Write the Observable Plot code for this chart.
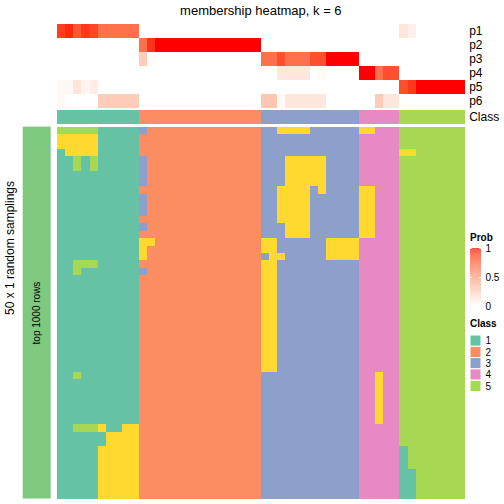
<!DOCTYPE html>
<html><head><meta charset="utf-8">
<script src="https://cdn.jsdelivr.net/npm/d3@7"></script>
<script src="https://cdn.jsdelivr.net/npm/@observablehq/plot@0.6"></script>
<style>
html,body{margin:0;padding:0;background:#fff;}
#chart{position:relative;width:504px;height:504px;overflow:hidden;background:#fff;font-family:"Liberation Sans",Arial,Helvetica,sans-serif;color:#000;}
#chart svg{position:absolute;left:0;top:0;}
.lbl{position:absolute;white-space:nowrap;color:#000;}
</style></head><body><div id="chart"></div>
<script>
// ---------- data ----------
const title = "membership heatmap, k = 6";
const rowTitle = "50 x 1 random samplings";
const rowGroup = "top 1000 rows";
const pRows = ["p1","p2","p3","p4","p5","p6"];
const classRow = "Class";
const classLabels = ["1","2","3","4","5","6"];
const classColors = ["#66C2A5","#FC8D62","#8DA0CB","#E78AC3","#A6D854","#FFD92F"];
const legendClasses = ["1","2","3","4","5"];
const probTicks = [0, 0.5, 1];
const groupColor = "#7FC97F";

const columnClass = "1111111111 222222222222222 333333333333 44444 55555555";

const p1 = [0.90,0.95,0.82,0.92,0.88,0.72,0.72,0.72,0.72,0.72,
  0,0,0,0,0,0,0,0,0,0,0,0,0,0,0,
  0,0,0,0,0,0,0,0,0,0,0,0,
  0,0,0,0,0,
  0.14,0.08,0,0,0,0,0,0];
const p2 = [0,0,0,0,0,0,0,0,0,0,
  0.72,0.93,1,1,1,1,1,1,1,1,1,1,1,1,1,
  0,0,0,0,0,0,0,0,0,0,0,0,
  0,0,0,0,0,
  0,0,0,0,0,0,0,0];
const p3 = [0,0,0,0,0,0,0,0,0,0,
  0.27,0.03,0,0,0,0,0,0,0,0,0,0,0,0,0,
  0.72,0.72,0.85,0.72,0.72,0.72,0.85,0.85,1,1,1,1,
  0,0,0,0,0,
  0,0,0,0,0,0,0,0];
const p4 = [0,0,0,0,0,0,0,0,0,0,
  0,0,0,0,0,0,0,0,0,0,0,0,0,0,0,
  0,0,0.13,0.13,0.13,0.13,0,0.03,0,0,0,0,
  1,1,0.72,0.85,0.85,
  0,0,0,0,0,0,0,0];
const p5 = [0.04,0.04,0.14,0.06,0.10,0,0,0,0,0,
  0,0,0,0,0,0,0,0,0,0,0,0,0,0,0,
  0,0,0,0,0,0,0,0,0,0,0,0,
  0,0,0,0,0,
  0.85,0.92,1,1,1,1,1,1];
const p6 = [0.04,0,0,0,0,0.27,0.27,0.27,0.27,0.27,
  0,0,0,0,0,0,0,0,0,0,0,0,0,0,0,
  0.30,0.30,0.03,0.13,0.13,0.13,0.13,0.13,0,0,0,0,
  0,0,0.28,0.13,0.13,
  0,0,0,0,0,0,0,0];

const membership = [
"5555511111 322222222222222 336666333333 66444 55555555",
"6666611111 222222222222222 333333333333 44444 55555555",
"6666611111 222222222222222 333333333333 44444 55555555",
"1666611111 222222222222222 333333333333 44444 66555555",
"1151511111 322222222222222 333666663333 44444 55555555",
"1151511111 322222222222222 333666663333 44444 55555555",
"1111111111 322222222222222 333666663333 44444 55555555",
"1111111111 322222222222222 333666663333 44444 55555555",
"1111111111 222222222222222 336666363333 66444 55555555",
"1111111111 322222222222222 336666333333 66444 55555555",
"1111111111 322222222222222 336666333333 66444 55555555",
"1111111111 322222222222222 336666333333 66444 55555555",
"1111111111 222222222222222 336666333333 66444 55555555",
"1111111111 322222222222222 333666333333 66444 55555555",
"1111111111 222222222222222 333666333333 66444 55555555",
"1111111111 662222222222222 663333336666 44444 55555555",
"1111111111 622222222222222 663333336666 44444 55555555",
"1111111111 622222222222222 366333336666 44444 55555555",
"1155511111 222222222222222 663333333333 44444 55555555",
"1151111111 322222222222222 663333333333 44444 55555555",
"1111111111 222222222222222 663333333333 44444 55555555",
"1111111111 222222222222222 663333333333 44444 55555555",
"1111111111 222222222222222 663333333333 44444 55555555",
"1111111111 222222222222222 663333333333 44444 55555555",
"1111111111 222222222222222 663333333333 44444 55555555",
"1111111111 222222222222222 663333333333 44444 55555555",
"1111111111 222222222222222 663333333333 44444 55555555",
"1111111111 222222222222222 663333333333 44444 55555555",
"1111111111 222222222222222 663333333333 44444 55555555",
"1111111111 222222222222222 663333333333 44444 55555555",
"1111111111 222222222222222 663333333333 44444 55555555",
"1111111111 222222222222222 663333333333 44444 55555555",
"1111111111 222222222222222 663333333333 44444 55555555",
"1151111111 222222222222222 333333333333 44644 55555555",
"1111111111 222222222222222 333333333333 44644 55555555",
"1111111111 222222222222222 333333333333 44644 55555555",
"1111111111 222222222222222 333333333333 44644 55555555",
"1111111111 222222222222222 333333333333 44644 55555555",
"1111111111 222222222222222 333333333333 44644 55555555",
"1111111111 222222222222222 333333333333 44644 55555555",
"1155561166 222222222222222 333333333333 44444 55555555",
"1111116666 222222222222222 333333333333 44444 55555555",
"1111116666 222222222222222 333333333333 44444 55555555",
"1111166666 222222222222222 333333333333 44444 15555555",
"1111166666 222222222222222 333333333333 44444 15555555",
"1111166666 222222222222222 333333333333 44444 15555555",
"1111166666 222222222222222 333333333333 44444 11555555",
"1111166666 222222222222222 333333333333 44444 11555555",
"1111166666 222222222222222 333333333333 44444 11555555",
"1111166666 222222222222222 333333333333 44444 11555555"
];

// ---------- build tables ----------
const pSeries = [p1, p2, p3, p4, p5, p6];
const colClasses = columnClass.replace(/ /g, "").split("");
const cols = d3.range(colClasses.length);
const rowsIdx = d3.range(membership.length);
const probCells = pSeries.flatMap((s, k) => s.map((v, i) => ({col: i, row: pRows[k], value: v})));
const classCells = colClasses.map((c, i) => ({col: i, row: classRow, cls: c}));
const mainCells = membership.flatMap((r, j) => r.replace(/ /g, "").split("").map((c, i) => ({col: i, row: j, cls: c})));

// ---------- layout ----------
const FONT = '"Liberation Sans", Arial, Helvetica, sans-serif';
const W = 504, H = 504;
const L = 57, R = 504 - 464.7;
const mainTop = 126.6, mainBottom = 498.5;
const baseStyle = (fs, crisp) => ({background: "none", fontFamily: FONT, fontSize: fs + "px", color: "#000", shapeRendering: crisp ? "crispEdges" : "auto", overflow: "visible"});
const probColor = {type: "linear", domain: [0, 1], range: ["white", "red"], interpolate: "lab"};
const classColor = {type: "ordinal", domain: classLabels, range: classColors};
const band = (domain, extra) => Object.assign({type: "band", domain, padding: 0, round: false, axis: null}, extra || {});
const rightAxis = {axis: "right", tickSize: 0, tickPadding: 4, label: null};
const chart = document.getElementById("chart");

// p1..p6 annotation
const plotP = Plot.plot({
  width: W, height: H, marginLeft: L, marginRight: R, marginTop: 24, marginBottom: H - 108,
  style: baseStyle(12, true),
  x: band(cols),
  y: band(pRows, rightAxis),
  color: probColor,
  marks: [Plot.cell(probCells, {x: "col", y: "row", fill: "value", inset: 0})]
});

// Class annotation row
const plotC = Plot.plot({
  width: W, height: H, marginLeft: L, marginRight: R, marginTop: 110, marginBottom: H - 124.3,
  style: baseStyle(12, true),
  x: band(cols),
  y: band([classRow], rightAxis),
  color: classColor,
  marks: [Plot.cell(classCells, {x: "col", y: "row", fill: "cls", inset: 0})]
});

// main membership heatmap
const plotM = Plot.plot({
  width: W, height: H, marginLeft: L, marginRight: R, marginTop: mainTop, marginBottom: H - mainBottom,
  style: baseStyle(10, true),
  x: band(cols),
  y: band(rowsIdx),
  color: classColor,
  marks: [Plot.cell(mainCells, {x: "col", y: "row", fill: "cls", inset: 0})]
});

// left group bar
const plotG = Plot.plot({
  width: W, height: H, marginLeft: 22.7, marginRight: W - 50.7, marginTop: mainTop, marginBottom: H - mainBottom,
  style: baseStyle(10, false),
  x: band([rowGroup]),
  y: band([rowGroup]),
  marks: [
    Plot.cell([rowGroup], {x: d => d, y: d => d, fill: groupColor, inset: 0}),
    Plot.text([rowGroup], {x: d => d, y: d => d, text: d => d, rotate: -90, fontSize: 10, fill: "#000"})
  ]
});

// Prob legend
const gradSteps = d3.range(0, 1, 0.005);
const plotLP = Plot.plot({
  width: W, height: H, marginLeft: 470, marginRight: W - 481, marginTop: 248, marginBottom: H - 306,
  style: baseStyle(10, false),
  x: {type: "linear", domain: [0, 1], axis: null},
  y: {type: "linear", domain: [0, 1], axis: "right", ticks: probTicks, tickSize: 0, tickPadding: 4, label: null, tickFormat: d => String(d)},
  color: probColor,
  marks: [
    Plot.rect(gradSteps, {x1: 0, x2: 1, y1: d => d, y2: d => Math.min(1, d + 0.0055), fill: d => d + 0.0025}),
    Plot.ruleY(probTicks, {x1: 0, x2: 0.15, stroke: "white", strokeWidth: 1}),
    Plot.ruleY(probTicks, {x1: 0.85, x2: 1, stroke: "white", strokeWidth: 1})
  ]
});

// Class legend
const plotLC = Plot.plot({
  width: W, height: H, marginLeft: 470, marginRight: W - 481, marginTop: 335, marginBottom: H - 391.5,
  style: baseStyle(10, false),
  x: band(["swatch"]),
  y: band(legendClasses, rightAxis),
  color: classColor,
  marks: [Plot.cell(legendClasses, {x: () => "swatch", y: d => d, fill: d => d, inset: 0, stroke: "white", strokeWidth: 1})]
});

[plotM, plotG, plotP, plotC, plotLP, plotLC].forEach(s => chart.appendChild(s));

// text labels
function addLabel(text, css) {
  const d = document.createElement("div");
  d.className = "lbl";
  d.textContent = text;
  Object.assign(d.style, css);
  chart.appendChild(d);
}
addLabel(title, {left: L + "px", width: (464.7 - L) + "px", top: "3px", textAlign: "center", fontSize: "13px", lineHeight: "16px"});
addLabel(rowTitle, {left: "10px", top: "248px", fontSize: "12px", lineHeight: "12px", transform: "translate(-50%,-50%) rotate(-90deg)"});
addLabel("Prob", {left: "470px", top: "232px", fontSize: "10px", lineHeight: "12px", fontWeight: "bold"});
addLabel("Class", {left: "470px", top: "318px", fontSize: "10px", lineHeight: "12px", fontWeight: "bold"});
</script></body></html>
